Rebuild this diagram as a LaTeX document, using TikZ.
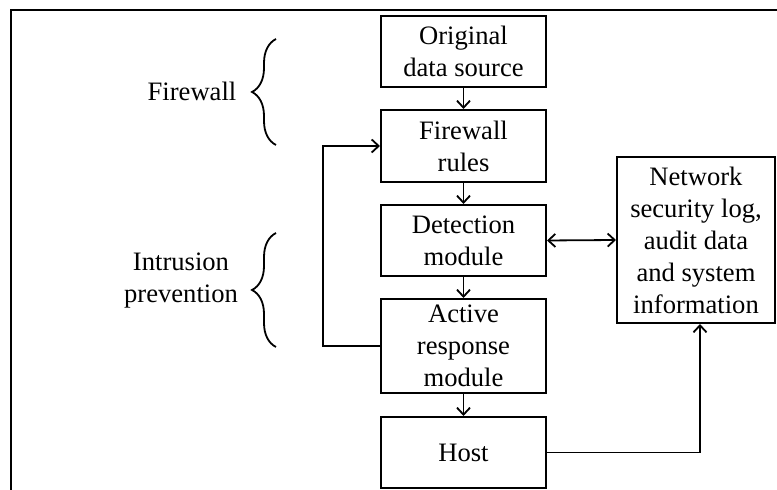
\documentclass[tikz,border=0pt]{standalone}
\usepackage{fontspec}
\setmainfont{Liberation Serif}
\usetikzlibrary{arrows.meta,decorations.pathreplacing}
\begin{document}
\begin{tikzpicture}[x=0.5pt,y=-0.5pt,
  txt/.style={font=\fontsize{13.3}{16}\selectfont, align=center, inner sep=0pt},
  stage/.style={txt, draw, line width=1pt, minimum width=82.5pt, minimum height=35.5pt},
  tip/.tip={Straight Barb[length=3.5pt,width=6.5pt]},
  flow/.style={line width=0.9pt, -tip},
  twoway/.style={line width=0.9pt, tip-tip},
  curly/.style={line width=0.9pt, decorate, decoration={brace, amplitude=12pt}}]
\useasboundingbox (0,0) rectangle (777,490);

% outer frame
\draw[line width=1pt] (11,490) -- (11,10) -- (777,10);

% main chain
\node[stage] (orig) at (463.5,51.5) {Original\\data source};
\node[stage, minimum height=36pt] (fw) at (463.5,146) {Firewall\\rules};
\node[stage] (det) at (463.5,240.5) {Detection\\module};
\node[stage, minimum height=47pt] (act) at (463.5,346) {Active\\response\\module};
\node[stage] (host) at (463.5,452.5) {Host};
\node[stage, minimum width=79pt, minimum height=83pt] (log) at (696,240)
  {Network\\security log,\\audit data\\and system\\information};

% connectors
\draw[flow] (orig) -- (fw);
\draw[flow] (fw) -- (det);
\draw[flow] (det) -- (act);
\draw[flow] (act) -- (host);
\draw[twoway] (det.east) -- (log.west);
\draw[flow] (host.east) -| ([xshift=2pt]log.south);
\draw[flow] (act.west) -- ++(-57,0) |- (fw.west);

% side labels with braces
\node[txt] (lblfw) at (192,91) {Firewall};
\node[txt] (lblip) at (181,281) {Intrusion\\prevention};
\draw[curly] (276,145) -- (276,39);
\draw[curly] (276,347) -- (276,233);
\end{tikzpicture}
\end{document}
